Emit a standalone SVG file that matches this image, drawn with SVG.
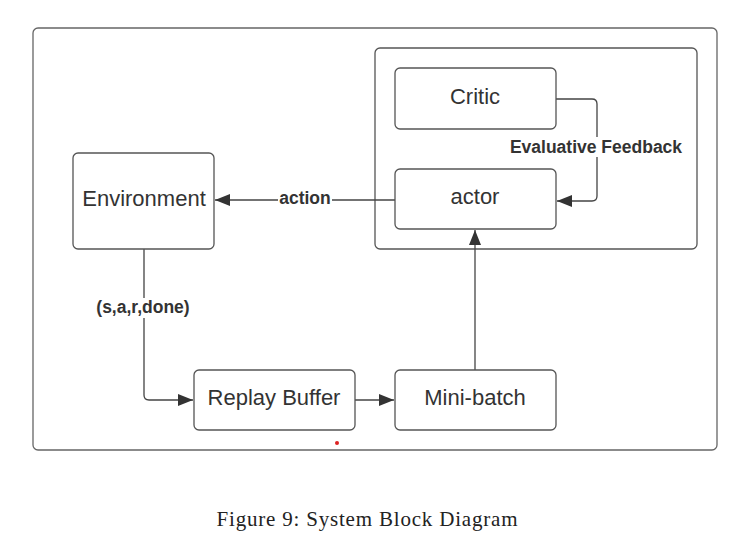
<svg xmlns="http://www.w3.org/2000/svg" width="753" height="557" viewBox="0 0 753 557">
<style>
.box{fill:#fff;stroke:#555;stroke-width:1.3}
.frame{fill:none;stroke:#666;stroke-width:1.3}
.lbl{font-family:"Liberation Sans",Arial,sans-serif;font-size:22px;fill:#333;text-anchor:middle}
.elbl{font-family:"Liberation Sans",Arial,sans-serif;font-size:17.5px;font-weight:bold;fill:#333;text-anchor:middle}
.conn{fill:none;stroke:#444;stroke-width:1.3}
</style>
<defs>
<marker id="ah" markerWidth="16" markerHeight="12" refX="15" refY="6" orient="auto" markerUnits="userSpaceOnUse">
<path d="M0,0 L15,6 L0,12 Z" fill="#333"/>
</marker>
</defs>
<rect width="753" height="557" fill="#fff"/>
<rect class="frame" x="33" y="28" width="684" height="422" rx="5"/>
<g id="container"><rect class="box" x="375" y="48" width="322" height="201" rx="5"/></g>
<g id="connectors">
<path class="conn" d="M556,99 H592 Q597,99 597,104 V196 Q597,201 592,201 H557" marker-end="url(#ah)"/>
<path class="conn" d="M395,200 H215" marker-end="url(#ah)"/>
<path class="conn" d="M144,249 V395 Q144,400 149,400 H193" marker-end="url(#ah)"/>
<path class="conn" d="M355,400 H394" marker-end="url(#ah)"/>
<path class="conn" d="M475,370 V230" marker-end="url(#ah)"/>
<rect x="506" y="137" width="182" height="20" fill="#fff"/>
<text class="elbl" x="596" y="153">Evaluative Feedback</text>
<rect x="278" y="190" width="54" height="18" fill="#fff"/>
<text class="elbl" x="305" y="204">action</text>
<rect x="80" y="298" width="114" height="20" fill="#fff"/>
<text class="elbl" x="143" y="313">(s,a,r,done)</text>
</g>
<g id="critic"><rect class="box" x="395" y="68" width="161" height="61" rx="5"/><text class="lbl" x="475" y="104">Critic</text></g>
<g id="actor"><rect class="box" x="395" y="169" width="161" height="60" rx="5"/><text class="lbl" x="475" y="204">actor</text></g>
<g id="environment"><rect class="box" x="73" y="153" width="141" height="96" rx="5"/><text class="lbl" x="144" y="206">Environment</text></g>
<g id="replay"><rect class="box" x="194" y="370" width="161" height="60" rx="5"/><text class="lbl" x="274" y="405">Replay Buffer</text></g>
<g id="minibatch"><rect class="box" x="395" y="370" width="161" height="60" rx="5"/><text class="lbl" x="475" y="405">Mini-batch</text></g>
<circle cx="337" cy="443" r="2" fill="#d22"/>
<text x="367" y="526" font-family="'Liberation Serif','Times New Roman',serif" font-size="21" fill="#222" text-anchor="middle" textLength="301">Figure 9: System Block Diagram</text>
</svg>
